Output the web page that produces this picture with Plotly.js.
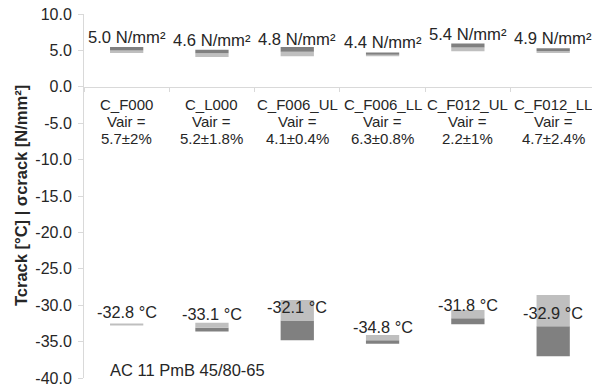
<!DOCTYPE html>
<html>
<head>
<meta charset="utf-8">
<script src="https://cdn.plot.ly/plotly-3.0.1.min.js"></script>
<style>html,body{margin:0;padding:0;background:#fff;}#chart{width:592px;height:387px;}</style>
</head>
<body>
<div id="chart"></div>
<script>
var categories = ["C_F000", "C_L000", "C_F006_UL", "C_F006_LL", "C_F012_UL", "C_F012_LL"];
var vairLabels = ["5.7±2%", "5.2±1.8%", "4.1±0.4%", "6.3±0.8%", "2.2±1%", "4.7±2.4%"];

var stressMin = [4.64, 4.1, 4.2, 4.2, 4.9, 4.65];
var stressMed = [5.0, 4.6, 4.8, 4.4, 5.4, 4.9];
var stressMax = [5.45, 5.1, 5.45, 4.7, 5.95, 5.3];

var tempMin = [-32.8, -33.6, -34.8, -35.3, -32.6, -37.0];
var tempMed = [-32.8, -33.1, -32.1, -34.8, -31.8, -32.9];
var tempMax = [-32.5, -32.4, -29.3, -34.1, -30.65, -28.6];

var yTickVals = [10, 5, 0, -5, -10, -15, -20, -25, -30, -35, -40];
var yTickText = ["10.0", "5.0", "0.0", "-5.0", "-10.0", "-15.0", "-20.0", "-25.0", "-30.0", "-35.0", "-40.0"];

var mixLabel = "AC 11 PmB 45/80-65";
var yTitle = "Tcrack [°C] | σcrack [N/mm²]";

var DARK = "#808080", LIGHT = "#bfbfbf", TXT = "#262626", AX = "#d9d9d9";
var FONT = "Liberation Sans, Arial, sans-serif";
var BW = 0.39;

function diff(a, b) { return a.map(function (v, i) { return +(v - b[i]).toFixed(3); }); }

var traces = [
  { type: "bar", x: categories, base: stressMin, y: diff(stressMed, stressMin), width: BW,
    marker: { color: LIGHT }, hoverinfo: "skip", showlegend: false },
  { type: "bar", x: categories, base: stressMed, y: diff(stressMax, stressMed), width: BW,
    marker: { color: DARK }, hoverinfo: "skip", showlegend: false },
  { type: "bar", x: categories, base: tempMin, y: diff(tempMed, tempMin), width: BW,
    marker: { color: DARK }, hoverinfo: "skip", showlegend: false },
  { type: "bar", x: categories, base: tempMed, y: diff(tempMax, tempMed), width: BW,
    marker: { color: LIGHT }, hoverinfo: "skip", showlegend: false }
];

var ann = [];
categories.forEach(function (c, i) {
  ann.push({ x: c, y: stressMed[i], xref: "x", yref: "y", text: stressMed[i].toFixed(1) + " N/mm²",
    showarrow: false, yanchor: "middle", yshift: 12.5, font: { family: FONT, size: 16.6, color: TXT } });
  ann.push({ x: c, y: tempMed[i], xref: "x", yref: "y", text: tempMed[i].toFixed(1) + " °C",
    showarrow: false, yanchor: "middle", yshift: 13.5, font: { family: FONT, size: 16.3, color: TXT } });
  var lines = [c, "Vair =", vairLabels[i]];
  lines.forEach(function (t, k) {
    ann.push({ x: c, y: 0, xref: "x", yref: "y", text: t, showarrow: false, yanchor: "middle",
      yshift: -(17.5 + 17 * k), font: { family: FONT, size: 15, color: TXT } });
  });
});
ann.push({ x: 0.047, y: -38.9, xref: "paper", yref: "y", text: mixLabel, showarrow: false,
  xanchor: "left", yanchor: "middle", font: { family: FONT, size: 16.5, color: TXT } });
ann.push({ x: -0.124, y: 0.5, xref: "paper", yref: "paper", text: yTitle, showarrow: false,
  textangle: -90, xanchor: "center", yanchor: "middle",
  font: { family: FONT, size: 16.5, color: TXT, weight: "bold" } });

var layout = {
  width: 592, height: 387,
  margin: { l: 84, r: 0, t: 14, b: 9 },
  paper_bgcolor: "#fff", plot_bgcolor: "#fff",
  barmode: "overlay",
  showlegend: false,
  xaxis: {
    type: "category", range: [-0.5, 5.455], anchor: "free", position: 0.8,
    showline: true, linecolor: AX, linewidth: 1, ticks: "outside", tickson: "boundaries",
    ticklen: 4, tickcolor: AX, showticklabels: false, showgrid: false, zeroline: false
  },
  yaxis: {
    range: [-40, 10], tickmode: "array", tickvals: yTickVals, ticktext: yTickText,
    showline: true, linecolor: AX, linewidth: 1, ticks: "outside", ticklen: 5, tickcolor: AX,
    showgrid: false, zeroline: false, ticklabelstandoff: 3, ticklabeloverflow: "allow",
    tickfont: { family: FONT, size: 16, color: TXT },
    automargin: false
  },
  annotations: ann
};

Plotly.newPlot("chart", traces, layout, { staticPlot: true, displayModeBar: false });
</script>
</body>
</html>
